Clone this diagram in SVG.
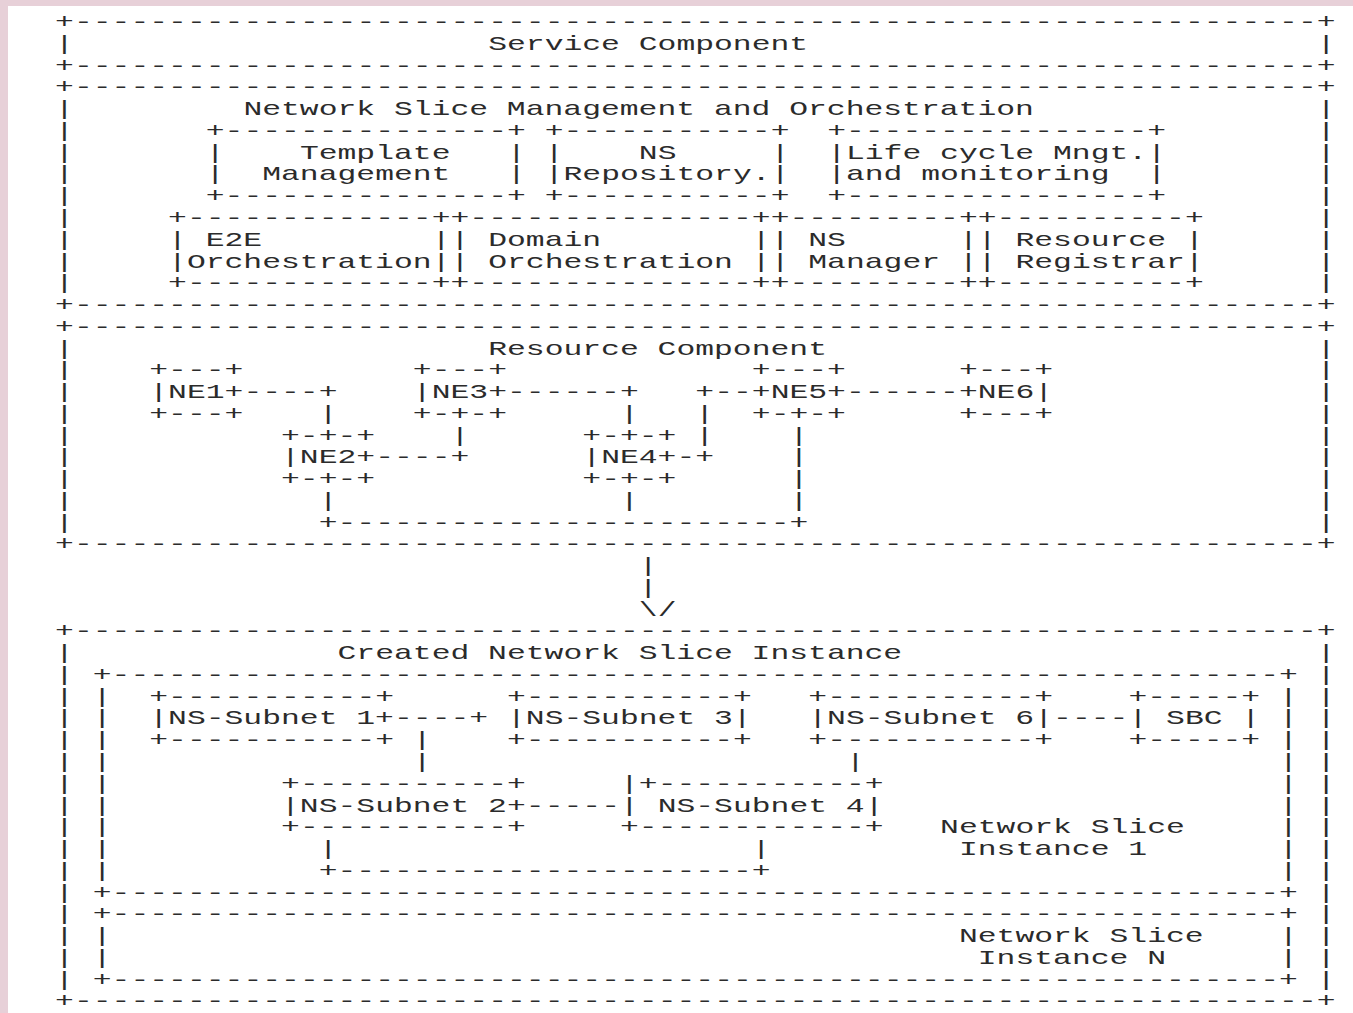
<svg xmlns="http://www.w3.org/2000/svg" width="1353" height="1013" viewBox="0 0 1353 1013">
<style>
.t{font-family:"Liberation Mono","Courier New",monospace;font-size:20px;fill:#2b2b2b}
</style>
<rect width="1353" height="1013" fill="#e7d0d8"/>
<rect x="8" y="6" width="1345" height="1007" fill="#fff"/>
<g class="t" transform="translate(55.1 1.5) scale(1.5692 1)">
<g id="service-component">
<text x="0" y="26.7" textLength="816" lengthAdjust="spacing">+------------------------------------------------------------------+</text>
<text x="0" y="48.5">|</text>
<text x="804" y="48.5">|</text>
<text x="276" y="48.5">Service Component</text>
<text x="0" y="70.2" textLength="816" lengthAdjust="spacing">+------------------------------------------------------------------+</text>
</g>
<g id="ns-management-orchestration">
<text x="0" y="92.0" textLength="816" lengthAdjust="spacing">+------------------------------------------------------------------+</text>
<text x="0 0 0 0 0 0 0 0 0" y="113.7 135.5 157.3 179.0 200.8 222.5 244.3 266.1 287.8">|||||||||</text>
<text x="804 804 804 804 804 804 804 804 804" y="113.7 135.5 157.3 179.0 200.8 222.5 244.3 266.1 287.8">|||||||||</text>
<text x="120" y="113.7">Network Slice Management and Orchestration</text>
<text x="0" y="309.6" textLength="816" lengthAdjust="spacing">+------------------------------------------------------------------+</text>
</g>
<g id="template-management">
<text x="96" y="135.5" textLength="204" lengthAdjust="spacing">+---------------+</text>
<text x="96 96" y="157.3 179.0">||</text>
<text x="288 288" y="157.3 179.0">||</text>
<text x="156" y="157.3">Template</text>
<text x="132" y="179.0">Management</text>
<text x="96" y="200.8" textLength="204" lengthAdjust="spacing">+---------------+</text>
</g>
<g id="ns-repository">
<text x="312" y="135.5" textLength="156" lengthAdjust="spacing">+-----------+</text>
<text x="312 312" y="157.3 179.0">||</text>
<text x="456 456" y="157.3 179.0">||</text>
<text x="372" y="157.3">NS</text>
<text x="324" y="179.0">Repository.</text>
<text x="312" y="200.8" textLength="156" lengthAdjust="spacing">+-----------+</text>
</g>
<g id="lifecycle-management">
<text x="492" y="135.5" textLength="216" lengthAdjust="spacing">+----------------+</text>
<text x="492 492" y="157.3 179.0">||</text>
<text x="696 696" y="157.3 179.0">||</text>
<text x="504" y="157.3">Life cycle Mngt.</text>
<text x="504" y="179.0">and monitoring</text>
<text x="492" y="200.8" textLength="216" lengthAdjust="spacing">+----------------+</text>
</g>
<g id="e2e-orchestration">
<text x="72" y="222.5" textLength="180" lengthAdjust="spacing">+-------------+</text>
<text x="72 72" y="244.3 266.1">||</text>
<text x="240 240" y="244.3 266.1">||</text>
<text x="96" y="244.3">E2E</text>
<text x="84" y="266.1">Orchestration</text>
<text x="72" y="287.8" textLength="180" lengthAdjust="spacing">+-------------+</text>
</g>
<g id="domain-orchestration">
<text x="252" y="222.5" textLength="204" lengthAdjust="spacing">+---------------+</text>
<text x="252 252" y="244.3 266.1">||</text>
<text x="444 444" y="244.3 266.1">||</text>
<text x="276" y="244.3">Domain</text>
<text x="276" y="266.1">Orchestration</text>
<text x="252" y="287.8" textLength="204" lengthAdjust="spacing">+---------------+</text>
</g>
<g id="ns-manager">
<text x="456" y="222.5" textLength="132" lengthAdjust="spacing">+---------+</text>
<text x="456 456" y="244.3 266.1">||</text>
<text x="576 576" y="244.3 266.1">||</text>
<text x="480" y="244.3">NS</text>
<text x="480" y="266.1">Manager</text>
<text x="456" y="287.8" textLength="132" lengthAdjust="spacing">+---------+</text>
</g>
<g id="resource-registrar">
<text x="588" y="222.5" textLength="144" lengthAdjust="spacing">+----------+</text>
<text x="588 588" y="244.3 266.1">||</text>
<text x="720 720" y="244.3 266.1">||</text>
<text x="612" y="244.3">Resource</text>
<text x="612" y="266.1">Registrar</text>
<text x="588" y="287.8" textLength="144" lengthAdjust="spacing">+----------+</text>
</g>
<g id="resource-component">
<text x="0" y="331.3" textLength="816" lengthAdjust="spacing">+------------------------------------------------------------------+</text>
<text x="0 0 0 0 0 0 0 0 0" y="353.1 374.9 396.6 418.4 440.1 461.9 483.7 505.4 527.2">|||||||||</text>
<text x="804 804 804 804 804 804 804 804 804" y="353.1 374.9 396.6 418.4 440.1 461.9 483.7 505.4 527.2">|||||||||</text>
<text x="276" y="353.1">Resource Component</text>
<text x="0" y="548.9" textLength="816" lengthAdjust="spacing">+------------------------------------------------------------------+</text>
</g>
<g id="ne1">
<text x="60" y="374.9">+---+</text>
<text x="60" y="396.6">|NE1+</text>
<text x="60" y="418.4">+---+</text>
</g>
<g id="ne3">
<text x="228" y="374.9">+---+</text>
<text x="228" y="396.6">|NE3+</text>
<text x="228" y="418.4">+-+-+</text>
</g>
<g id="ne5">
<text x="444" y="374.9">+---+</text>
<text x="444" y="396.6">+NE5+</text>
<text x="444" y="418.4">+-+-+</text>
</g>
<g id="ne6">
<text x="576" y="374.9">+---+</text>
<text x="576" y="396.6">+NE6|</text>
<text x="576" y="418.4">+---+</text>
</g>
<g id="ne2">
<text x="144" y="440.1">+-+-+</text>
<text x="144" y="461.9">|NE2+</text>
<text x="144" y="483.7">+-+-+</text>
</g>
<g id="ne4">
<text x="336" y="440.1">+-+-+</text>
<text x="336" y="461.9">|NE4+</text>
<text x="336" y="483.7">+-+-+</text>
</g>
<g id="created-network-slice-instance">
<text x="0" y="636.0" textLength="816" lengthAdjust="spacing">+------------------------------------------------------------------+</text>
<text x="0 0 0 0 0 0 0 0 0 0 0 0 0 0 0 0" y="657.7 679.5 701.3 723.0 744.8 766.5 788.3 810.1 831.8 853.6 875.3 897.1 918.9 940.6 962.4 984.1">||||||||||||||||</text>
<text x="804 804 804 804 804 804 804 804 804 804 804 804 804 804 804 804" y="657.7 679.5 701.3 723.0 744.8 766.5 788.3 810.1 831.8 853.6 875.3 897.1 918.9 940.6 962.4 984.1">||||||||||||||||</text>
<text x="180" y="657.7">Created Network Slice Instance</text>
<text x="0" y="1005.9" textLength="816" lengthAdjust="spacing">+------------------------------------------------------------------+</text>
</g>
<g id="network-slice-instance-1">
<text x="24" y="679.5" textLength="768" lengthAdjust="spacing">+--------------------------------------------------------------+</text>
<text x="24 24 24 24 24 24 24 24 24" y="701.3 723.0 744.8 766.5 788.3 810.1 831.8 853.6 875.3">|||||||||</text>
<text x="780 780 780 780 780 780 780 780 780" y="701.3 723.0 744.8 766.5 788.3 810.1 831.8 853.6 875.3">|||||||||</text>
<text x="564" y="831.8">Network Slice</text>
<text x="576" y="853.6">Instance 1</text>
<text x="24" y="897.1" textLength="768" lengthAdjust="spacing">+--------------------------------------------------------------+</text>
</g>
<g id="network-slice-instance-n">
<text x="24" y="918.9" textLength="768" lengthAdjust="spacing">+--------------------------------------------------------------+</text>
<text x="24 24" y="940.6 962.4">||</text>
<text x="780 780" y="940.6 962.4">||</text>
<text x="576" y="940.6">Network Slice</text>
<text x="588" y="962.4">Instance N</text>
<text x="24" y="984.1" textLength="768" lengthAdjust="spacing">+--------------------------------------------------------------+</text>
</g>
<g id="ns-subnet-1">
<text x="60" y="701.3" textLength="156" lengthAdjust="spacing">+-----------+</text>
<text x="60" y="723.0">|NS-Subnet 1+</text>
<text x="60" y="744.8" textLength="156" lengthAdjust="spacing">+-----------+</text>
</g>
<g id="ns-subnet-3">
<text x="288" y="701.3" textLength="156" lengthAdjust="spacing">+-----------+</text>
<text x="288" y="723.0">|NS-Subnet 3|</text>
<text x="288" y="744.8" textLength="156" lengthAdjust="spacing">+-----------+</text>
</g>
<g id="ns-subnet-6">
<text x="480" y="701.3" textLength="156" lengthAdjust="spacing">+-----------+</text>
<text x="480" y="723.0">|NS-Subnet 6|</text>
<text x="480" y="744.8" textLength="156" lengthAdjust="spacing">+-----------+</text>
</g>
<g id="sbc">
<text x="684" y="701.3">+-----+</text>
<text x="684" y="723.0" xml:space="preserve">| SBC |</text>
<text x="684" y="744.8">+-----+</text>
</g>
<g id="ns-subnet-2">
<text x="144" y="788.3" textLength="156" lengthAdjust="spacing">+-----------+</text>
<text x="144" y="810.1">|NS-Subnet 2+</text>
<text x="144" y="831.8" textLength="156" lengthAdjust="spacing">+-----------+</text>
</g>
<g id="ns-subnet-4">
<text x="360" y="788.3" textLength="168" lengthAdjust="spacing">|+-----------+</text>
<text x="360" y="810.1" xml:space="preserve">| NS-Subnet 4|</text>
<text x="360" y="831.8" textLength="168" lengthAdjust="spacing">+------------+</text>
</g>
<g id="connectors">
<text x="120" y="396.6">----+</text>
<text x="288" y="396.6">------+</text>
<text x="408" y="396.6">+--</text>
<text x="504" y="396.6">------</text>
<text x="168" y="418.4">|</text>
<text x="360" y="418.4">|</text>
<text x="408" y="418.4">|</text>
<text x="252" y="440.1">|</text>
<text x="408" y="440.1">|</text>
<text x="468" y="440.1">|</text>
<text x="204" y="461.9">----+</text>
<text x="396" y="461.9">-+</text>
<text x="468" y="461.9">|</text>
<text x="468" y="483.7">|</text>
<text x="168" y="505.4">|</text>
<text x="360" y="505.4">|</text>
<text x="468" y="505.4">|</text>
<text x="168" y="527.2" textLength="312" lengthAdjust="spacing">+------------------------+</text>
<text x="372 372" y="570.7 592.5">||</text>
<text x="372" y="614.2">\/</text>
<text x="216" y="723.0">----+</text>
<text x="636" y="723.0">----</text>
<text x="228" y="744.8">|</text>
<text x="228" y="766.5">|</text>
<text x="504" y="766.5">|</text>
<text x="300" y="810.1">-----</text>
<text x="168" y="853.6">|</text>
<text x="444" y="853.6">|</text>
<text x="168" y="875.3" textLength="288" lengthAdjust="spacing">+----------------------+</text>
</g>
</g>
</svg>
